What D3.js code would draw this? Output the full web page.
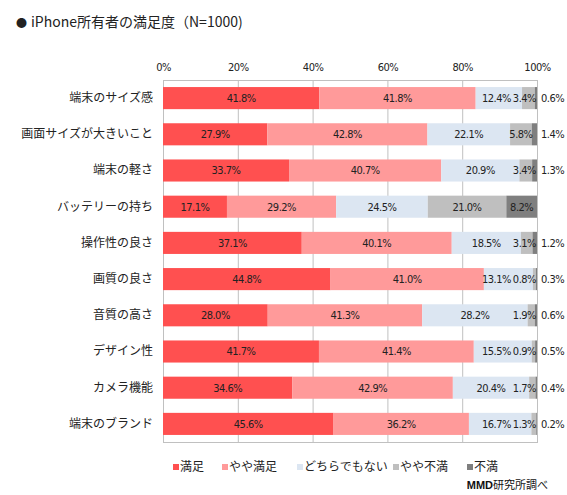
<!DOCTYPE html>
<html lang="ja">
<head>
    <meta charset="UTF-8">
    <title>iPhone所有者の満足度</title>
    <script src="https://d3js.org/d3.v7.min.js"></script>
    <style>
        body { margin: 0; background: #fff; }
        svg { font-family: "Noto Sans CJK JP", sans-serif; }
        .num { font-family: "DejaVu Sans Condensed", "Liberation Sans Narrow", "Noto Sans", sans-serif; font-stretch: condensed; font-size: 11px; letter-spacing: -0.5px; fill: #222; }
        .grid line { stroke: #c0c0c0; }
    </style>
</head>
<body>
    <div id="chart"></div>
    <script>
        // data
        const categories = ["端末のサイズ感", "画面サイズが大きいこと", "端末の軽さ", "バッテリーの持ち", "操作性の良さ",
                            "画質の良さ", "音質の高さ", "デザイン性", "カメラ機能", "端末のブランド"];
        const seriesNames = ["満足", "やや満足", "どちらでもない", "やや不満", "不満"];
        const manzoku     = [41.8, 27.9, 33.7, 17.1, 37.1, 44.8, 28.0, 41.7, 34.6, 45.6];
        const yayaManzoku = [41.8, 42.8, 40.7, 29.2, 40.1, 41.0, 41.3, 41.4, 42.9, 36.2];
        const dochiramo   = [12.4, 22.1, 20.9, 24.5, 18.5, 13.1, 28.2, 15.5, 20.4, 16.7];
        const yayaFuman   = [3.4, 5.8, 3.4, 21.0, 3.1, 0.8, 1.9, 0.9, 1.7, 1.3];
        const fuman       = [0.6, 1.4, 1.3, 8.2, 1.2, 0.3, 0.6, 0.5, 0.4, 0.2];
        const ticks = [0, 20, 40, 60, 80, 100];
        const colors = ["#ff5050", "#ff9a9a", "#dce6f2", "#bfbfbf", "#7f7f7f"];

        const W = 567, H = 495;
        const margin = { top: 80, right: 30, bottom: 53, left: 163 };
        const width = W - margin.left - margin.right;
        const height = H - margin.top - margin.bottom;

        const rows = categories.map((c, i) => {
            const r = { cat: c };
            [manzoku, yayaManzoku, dochiramo, yayaFuman, fuman].forEach((arr, k) => r[seriesNames[k]] = arr[i]);
            return r;
        });
        const stacked = d3.stack().keys(seriesNames)(rows);

        const svg = d3.select("#chart").append("svg")
            .attr("width", W).attr("height", H);

        const title = svg.append("text")
            .attr("x", 16).attr("y", 27)
            .style("font-size", "14px").attr("fill", "#222");
        title.append("tspan").style("font-size", "11px").text("●");
        title.append("tspan").attr("dx", 4).text("iPhone所有者の満足度（N=1000)");

        const g = svg.append("g").attr("transform", `translate(${margin.left},${margin.top})`);

        const x = d3.scaleLinear().domain([0, 100]).range([0, width]);
        const y = d3.scaleBand().domain(categories).range([0, height]).paddingInner(0.39).paddingOuter(0.195);

        // gridlines + frame
        g.append("g").attr("class", "grid")
         .selectAll("line").data(ticks).join("line")
         .attr("x1", d => x(d) + 0.5).attr("x2", d => x(d) + 0.5)
         .attr("y1", 0).attr("y2", height);
        g.append("rect").attr("x", 0.5).attr("y", 0.5).attr("width", width).attr("height", height)
         .attr("fill", "none").attr("stroke", "#c0c0c0");

        // top axis labels
        const ax = g.append("g").call(d3.axisTop(x).tickValues(ticks).tickFormat(d => d + "%").tickSize(0).tickPadding(9));
        ax.select(".domain").remove();
        ax.selectAll("text").attr("class", "num").style("font-size", "11px");

        // category labels
        const ay = g.append("g").call(d3.axisLeft(y).tickSize(0).tickPadding(10));
        ay.select(".domain").remove();
        ay.selectAll("text").style("font-family", "'Noto Sans CJK JP', sans-serif").style("font-size", "12px").attr("fill", "#222");

        // bars
        const layers = g.selectAll(".layer").data(stacked).join("g")
            .attr("fill", (d, i) => colors[i]);
        layers.selectAll("rect").data(d => d).join("rect")
            .attr("x", d => x(d[0]))
            .attr("y", d => y(d.data.cat))
            .attr("width", d => x(d[1]) - x(d[0]))
            .attr("height", y.bandwidth());

        // value labels (centred, with a small push-left pass so they don't collide)
        const labelG = g.append("g");
        categories.forEach((cat, i) => {
            const items = [];
            stacked.forEach((layer, k) => {
                const d = layer[i];
                const t = labelG.append("text").attr("class", "num")
                    .attr("y", y(cat) + y.bandwidth() / 2).attr("dy", "0.35em")
                    .text(d.data[seriesNames[k]].toFixed(1) + "%");
                const w = t.node().getComputedTextLength();
                if (k === 4 && d[1] - d[0] < 5) {
                    t.attr("x", width + 4).attr("text-anchor", "start");
                } else {
                    t.attr("text-anchor", "middle");
                    items.push({ t, w, cx: Math.min(x((d[0] + d[1]) / 2), width - 1 - w / 2) });
                }
            });
            for (let j = items.length - 2; j >= 0; j--) {
                const right = items[j + 1].cx - items[j + 1].w / 2 - 2;
                if (items[j].cx + items[j].w / 2 > right) items[j].cx = right - items[j].w / 2;
            }
            items.forEach(it => it.t.attr("x", it.cx));
        });

        // legend
        const legend = svg.append("g").attr("transform", "translate(173,467)");
        const legendX = [0, 49, 124, 220, 294];
        seriesNames.forEach((n, i) => {
            const lg = legend.append("g").attr("transform", `translate(${legendX[i]},0)`);
            lg.append("rect").attr("x", 0).attr("y", -3).attr("width", 6).attr("height", 6).attr("fill", colors[i]);
            lg.append("text").attr("x", 7).attr("dy", "0.35em")
              .style("font-size", "12px").attr("fill", "#222").text(n);
        });

        // source
        const src = svg.append("text").attr("x", 548).attr("y", 489).attr("text-anchor", "end")
            .style("font-size", "11px").attr("fill", "#111");
        src.append("tspan").style("font-weight", "bold").style("font-family", "'Liberation Sans', sans-serif").text("MMD");
        src.append("tspan").text("研究所調べ");
    </script>
</body>
</html>
